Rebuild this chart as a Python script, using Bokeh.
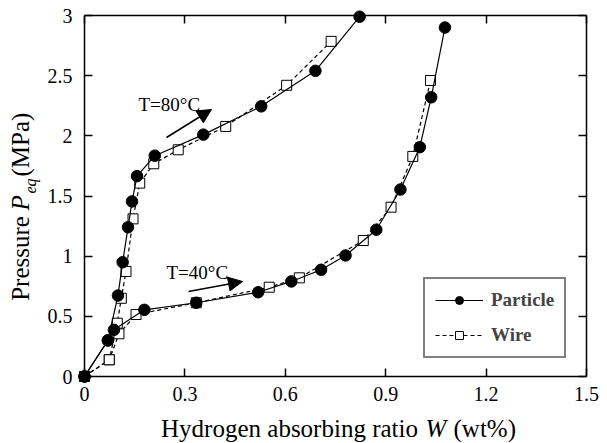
import math
from bokeh.plotting import figure
from bokeh.models import (Range1d, LinearAxis, FixedTicker, Label, Arrow, NormalHead,
                          Legend, LegendItem)
from bokeh.embed import file_html
from bokeh.resources import INLINE

# ---- data ----
particle80_w = [0, 0.070, 0.100, 0.114, 0.130, 0.142, 0.157, 0.210, 0.355, 0.528, 0.690, 0.822]
particle80_p = [0, 0.30, 0.673, 0.95, 1.24, 1.455, 1.665, 1.835, 2.01, 2.245, 2.54, 2.99]

particle40_w = [0, 0.070, 0.088, 0.179, 0.334, 0.519, 0.618, 0.707, 0.780, 0.872, 0.944, 1.002, 1.036, 1.077]
particle40_p = [0, 0.30, 0.388, 0.554, 0.613, 0.70, 0.79, 0.887, 1.006, 1.22, 1.554, 1.906, 2.32, 2.90]

wire80_w = [0, 0.074, 0.098, 0.110, 0.124, 0.145, 0.165, 0.207, 0.280, 0.422, 0.604, 0.737]
wire80_p = [0, 0.139, 0.443, 0.65, 0.873, 1.31, 1.607, 1.768, 1.884, 2.078, 2.42, 2.785]

wire40_w = [0, 0.074, 0.103, 0.154, 0.334, 0.552, 0.642, 0.833, 0.916, 0.981, 1.034]
wire40_p = [0, 0.139, 0.355, 0.515, 0.613, 0.742, 0.82, 1.13, 1.407, 1.829, 2.46]

x_ticks = [0, 0.3, 0.6, 0.9, 1.2, 1.5]
x_tick_labels = ["0", "0.3", "0.6", "0.9", "1.2", "1.5"]
y_ticks = [0, 0.5, 1, 1.5, 2, 2.5, 3]
y_tick_labels = ["0", "0.5", "1", "1.5", "2", "2.5", "3"]
x_lim = (0, 1.5)
y_lim = (0, 3)

series_names = ["Particle", "Wire"]
temp_labels = ["T=80\u00b0C", "T=40\u00b0C"]

SERIF = "Liberation Serif"

# page geometry (pixels)
CW, CH = 600, 442          # canvas
FL, FT = 84, 15            # axes box left / top
FW, FH = 502, 361          # axes box size
BASE_SHIFT = 0.37          # em shift to place alphabetic baselines where wanted

def dx(px):
    return x_lim[0] + (px - FL) / FW * (x_lim[1] - x_lim[0])

def dy(py):
    return y_lim[0] + (FT + FH - py) / FH * (y_lim[1] - y_lim[0])

# the frame covers the whole canvas; the axes are drawn at fixed locations
p = figure(frame_width=CW, frame_height=CH, output_backend="svg", toolbar_location=None,
           x_range=Range1d(dx(0), dx(CW)), y_range=Range1d(dy(CH), dy(0)),
           min_border=0, x_axis_type=None, y_axis_type=None)
p.background_fill_color = "white"
p.border_fill_color = "white"
p.grid.visible = False
p.outline_line_color = None

def make_axis(fixed, ticks, labels, bounds, show_labels):
    ax = LinearAxis(fixed_location=fixed, bounds=bounds)
    ax.ticker = FixedTicker(ticks=ticks)
    ax.major_tick_in = 8
    ax.major_tick_out = 0
    ax.minor_tick_line_color = None
    ax.major_tick_line_color = "black"
    ax.major_tick_line_width = 1.5
    ax.axis_line_color = "black"
    ax.axis_line_width = 1.5
    ax.major_label_text_font = SERIF
    ax.major_label_text_font_size = "20px"
    if show_labels:
        ax.major_label_overrides = {t: l for t, l in zip(ticks, labels)}
        ax.major_label_text_color = "black"
    else:
        ax.major_label_text_color = None
        ax.major_label_standoff = 0
    return ax

bottom = make_axis(y_lim[0], x_ticks, x_tick_labels, x_lim, True)
bottom.major_label_standoff = 10
p.add_layout(bottom, "below")
top = make_axis(y_lim[1], x_ticks, x_tick_labels, x_lim, False)
p.add_layout(top, "above")
left = make_axis(x_lim[0], y_ticks, y_tick_labels, y_lim, True)
left.major_label_standoff = 12
p.add_layout(left, "left")
right = make_axis(x_lim[1], y_ticks, y_tick_labels, y_lim, False)
p.add_layout(right, "right")

# ---- curves ----
lw = 1.2
r_w80 = p.line(wire80_w, wire80_p, line_color="black", line_width=lw, line_dash="4 3")
r_w40 = p.line(wire40_w, wire40_p, line_color="black", line_width=lw, line_dash="4 3")
s_w80 = p.scatter(wire80_w, wire80_p, marker="square", size=10, fill_color="white",
                  line_color="black", line_width=1)
s_w40 = p.scatter(wire40_w, wire40_p, marker="square", size=10, fill_color="white",
                  line_color="black", line_width=1)
r_p80 = p.line(particle80_w, particle80_p, line_color="black", line_width=lw)
r_p40 = p.line(particle40_w, particle40_p, line_color="black", line_width=lw)
s_p80 = p.scatter(particle80_w, particle80_p, marker="circle", size=11.5, fill_color="black",
                  line_color="black")
s_p40 = p.scatter(particle40_w, particle40_p, marker="circle", size=11.5, fill_color="black",
                  line_color="black")

# ---- text helper: (px, py) = wanted baseline point on the page ----
def lab(px, py, text, size, style="normal", align="left", rotated=False):
    shift = BASE_SHIFT * size
    if rotated:
        x, y, angle = dx(px - shift), dy(py), math.pi / 2
    else:
        x, y, angle = dx(px), dy(py - shift), 0.0
    p.add_layout(Label(x=x, y=y, text=text, text_font=SERIF, text_font_size=f"{size}px",
                       text_font_style=style, text_align=align, text_baseline="alphabetic",
                       angle=angle, text_color="black"))

# ---- temperature annotations ----
lab(138, 111, temp_labels[0], 19)
lab(166, 279, temp_labels[1], 19)
p.add_layout(Arrow(x_start=dx(166), y_start=dy(137), x_end=dx(211), y_end=dy(109),
                   line_width=1.5, line_color="black",
                   end=NormalHead(size=14, fill_color="black", line_color="black")))
p.add_layout(Arrow(x_start=dx(188), y_start=dy(291), x_end=dx(242), y_end=dy(281),
                   line_width=1.5, line_color="black",
                   end=NormalHead(size=14, fill_color="black", line_color="black")))

# ---- axis titles (pieces for italic / subscript parts) ----
lab(289, 437, "Hydrogen absorbing ratio", 25, align="center")
lab(425, 437, "W", 25, style="italic")
lab(453, 437, "(wt%)", 25)

lab(29, 258, "Pressure", 25, align="center", rotated=True)
lab(29, 210, "P", 25, style="italic", rotated=True)
lab(36, 193, "eq", 16, style="italic", rotated=True)
lab(29, 176, "(MPa)", 25, rotated=True)

# ---- legend ----
legend = Legend(items=[LegendItem(label=series_names[0], renderers=[r_p80, s_p80]),
                       LegendItem(label=series_names[1], renderers=[r_w80, s_w80])],
                location=(423, CH - 358), orientation="vertical",
                border_line_color="black", border_line_width=2,
                background_fill_color="white", background_fill_alpha=1.0,
                label_text_font=SERIF, label_text_font_size="19px",
                label_text_font_style="bold", label_standoff=8,
                glyph_width=48, glyph_height=20, label_height=20, label_width=62,
                padding=10, spacing=13, margin=0)
p.add_layout(legend, "center")

open("out.html", "w").write(file_html(p, INLINE))
